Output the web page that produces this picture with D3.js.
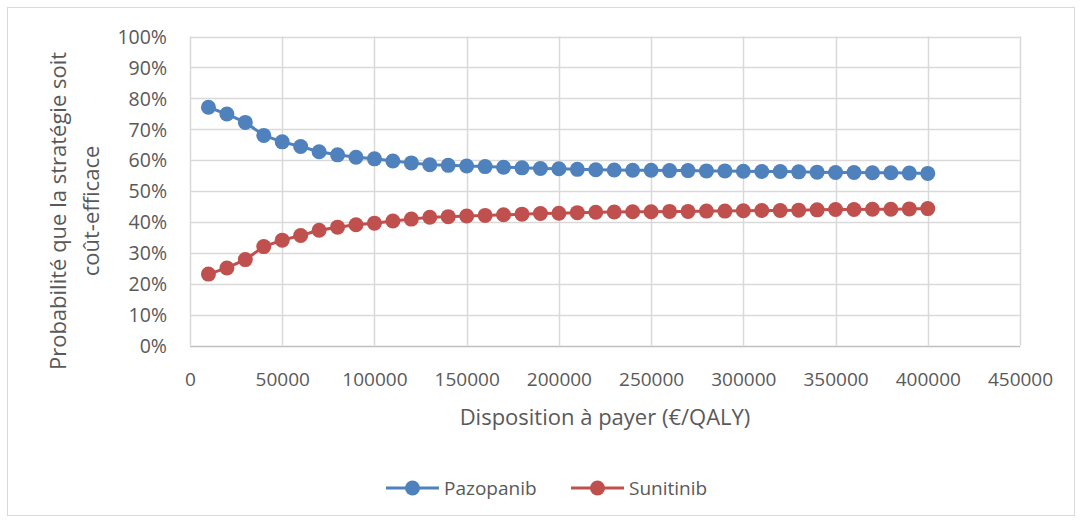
<!DOCTYPE html>
<html><head><meta charset="utf-8">
<script src="https://cdn.jsdelivr.net/npm/d3@7"></script>
<style>body{margin:0;background:#fff}svg text{font-family:"Open Sans",sans-serif;fill:#595959}</style>
</head><body>
<svg id="c" width="1081" height="523"></svg>
<script>
const wtp = [10000,20000,30000,40000,50000,60000,70000,80000,90000,100000,110000,120000,130000,140000,150000,160000,170000,180000,190000,200000,210000,220000,230000,240000,250000,260000,270000,280000,290000,300000,310000,320000,330000,340000,350000,360000,370000,380000,390000,400000];
const pazopanib = [77.1,74.9,72.2,68.0,65.9,64.4,62.7,61.7,60.9,60.4,59.7,59.1,58.5,58.3,58.1,57.9,57.7,57.5,57.3,57.2,57.0,56.9,56.8,56.7,56.7,56.6,56.6,56.5,56.5,56.4,56.3,56.3,56.2,56.1,56.0,56.0,55.9,55.9,55.8,55.7];
const sunitinib = [23.1,25.1,27.8,32.0,34.1,35.6,37.3,38.3,39.1,39.6,40.3,40.9,41.5,41.7,41.9,42.1,42.3,42.5,42.7,42.8,43.0,43.1,43.2,43.3,43.3,43.4,43.4,43.5,43.5,43.6,43.7,43.7,43.8,43.9,44.0,44.0,44.1,44.1,44.2,44.3];
const xTicks = [0,50000,100000,150000,200000,250000,300000,350000,400000,450000];
const yTicks = [0,10,20,30,40,50,60,70,80,90,100];
const seriesNames = ["Pazopanib","Sunitinib"];
const colors = ["#4F81BD","#C0504D"];

const svg = d3.select("#c");
svg.append("rect").attr("x",7.5).attr("y",7.5).attr("width",1067).attr("height",508)
  .attr("fill","#fff").attr("stroke","#d9d9d9");

const x = d3.scaleLinear().domain([0,450000]).range([190,1020]);
const y = d3.scaleLinear().domain([0,100]).range([345.5,36.5]);

// gridlines
const g = svg.append("g");
g.selectAll(".hg").data(yTicks).join("line")
  .attr("x1",x(0)).attr("x2",x(450000)).attr("y1",d=>Math.round(y(d))+0.5).attr("y2",d=>Math.round(y(d))+0.5)
  .attr("stroke",d=>d===0?"#bfbfbf":"#d9d9d9").attr("stroke-width",1.5);
g.selectAll(".vg").data(xTicks).join("line")
  .attr("x1",d=>Math.round(x(d))+0.5).attr("x2",d=>Math.round(x(d))+0.5).attr("y1",y(100)).attr("y2",y(0))
  .attr("stroke","#d9d9d9").attr("stroke-width",1.5);

// axes labels via d3 axes
const yAxis = svg.append("g").attr("transform",`translate(${x(0)-8},0)`)
  .call(d3.axisLeft(y).tickValues(yTicks).tickFormat(d=>d+"%").tickSize(0));
yAxis.select(".domain").remove();
yAxis.selectAll("text").attr("font-size",19.5).attr("font-family","Open Sans").attr("fill","#595959").attr("dx","-12").attr("dy","0.35em");

const xAxis = svg.append("g").attr("transform",`translate(0,${y(0)+24})`)
  .call(d3.axisBottom(x).tickValues(xTicks).tickFormat(d3.format("d")).tickSize(0));
xAxis.select(".domain").remove();
xAxis.selectAll("text").attr("font-size",19).attr("font-family","Open Sans").attr("fill","#595959");

// titles
svg.append("text").attr("x",605).attr("y",425).attr("text-anchor","middle").attr("font-size",22).text("Disposition à payer (€/QALY)");
const yt = svg.append("text").attr("transform","translate(58,211) rotate(-90)").attr("text-anchor","middle").attr("font-size",22);
yt.append("tspan").attr("x",0).attr("y",8).text("Probabilité que la stratégie soit");
yt.append("tspan").attr("x",0).attr("y",41).text("coût-efficace");

// series
const data = [pazopanib, sunitinib];
const line = d3.line().x((d,i)=>x(wtp[i])).y(d=>y(d));
data.forEach((s,k)=>{
  svg.append("path").attr("d",line(s)).attr("fill","none").attr("stroke",colors[k]).attr("stroke-width",3);
  svg.append("g").selectAll("circle").data(s).join("circle")
    .attr("cx",(d,i)=>x(wtp[i])).attr("cy",d=>y(d)).attr("r",7.5).attr("fill",colors[k]);
});

// legend
const legX = [386,571];
seriesNames.forEach((n,k)=>{
  const lg = svg.append("g").attr("transform",`translate(${legX[k]},488)`);
  lg.append("line").attr("x1",0).attr("x2",53).attr("stroke",colors[k]).attr("stroke-width",3);
  lg.append("circle").attr("cx",26.5).attr("r",7.5).attr("fill",colors[k]);
  lg.append("text").attr("x",58).attr("y",7).attr("font-size",19).text(n);
});
</script>
</body></html>
